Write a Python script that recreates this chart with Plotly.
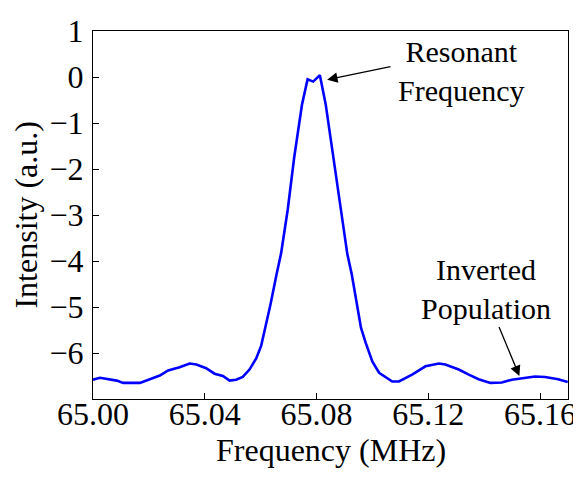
import plotly.graph_objects as go

freq_mhz = [65.0000, 65.0025, 65.0085, 65.0108, 65.0168, 65.0192, 65.0239, 65.0269,
            65.0310, 65.0346, 65.0370, 65.0405, 65.0435, 65.0465, 65.0489, 65.0512,
            65.0536, 65.0560, 65.0584, 65.0602, 65.0617, 65.0635, 65.0657, 65.0673,
            65.0697, 65.0720, 65.0748, 65.0768, 65.0788, 65.0812, 65.0833, 65.0859,
            65.0887, 65.0910, 65.0926, 65.0945, 65.0959, 65.0976, 65.1000, 65.1024,
            65.1071, 65.1095, 65.1142, 65.1190, 65.1238, 65.1261, 65.1309, 65.1345,
            65.1380, 65.1422, 65.1463, 65.1499, 65.1535, 65.1582, 65.1618, 65.1665,
            65.1699]
intensity = [-6.58, -6.54, -6.60, -6.65, -6.65, -6.60, -6.49, -6.38,
             -6.31, -6.23, -6.25, -6.33, -6.45, -6.50, -6.60, -6.58,
             -6.52, -6.36, -6.12, -5.84, -5.45, -4.95, -4.29, -3.84,
             -2.88, -1.75, -0.60, -0.05, -0.10, 0.04, -0.60, -1.70,
             -2.88, -3.84, -4.29, -5.00, -5.45, -5.78, -6.19, -6.43,
             -6.62, -6.62, -6.47, -6.29, -6.23, -6.25, -6.36, -6.47,
             -6.57, -6.65, -6.64, -6.58, -6.55, -6.51, -6.52, -6.57,
             -6.63]

x_ticks = [65.00, 65.04, 65.08, 65.12, 65.16]
x_tick_labels = ["65.00", "65.04", "65.08", "65.12", "65.16"]
y_ticks = [1, 0, -1, -2, -3, -4, -5, -6]

FONT = "Liberation Serif"

fig = go.Figure()
fig.add_trace(go.Scatter(x=freq_mhz, y=intensity, mode="lines",
                         line=dict(color="#0000ff", width=2.6), showlegend=False))

axis_common = dict(showline=True, linecolor="black", linewidth=1.3, mirror=True,
                   ticks="inside", ticklen=6, tickwidth=1.2, tickcolor="black",
                   showgrid=False, zeroline=False, ticklabeloverflow="allow",
                   tickfont=dict(family=FONT, size=32, color="black"))

fig.update_xaxes(range=[65.0, 65.17], tickvals=x_ticks, ticktext=x_tick_labels,
                 ticklabelstandoff=-14, **axis_common)
fig.update_yaxes(range=[-7, 1], tickvals=y_ticks, ticklabelstandoff=2, **axis_common)

title_font = dict(family=FONT, size=32, color="black")
fig.add_annotation(text="Frequency (MHz)", xref="paper", yref="paper", x=0.5, y=-0.138,
                   xanchor="center", yanchor="middle", showarrow=False, font=title_font)
fig.add_annotation(text="Intensity (a.u.)", xref="paper", yref="paper", x=-0.142, y=0.5,
                   xanchor="center", yanchor="middle", textangle=-90, showarrow=False,
                   font=title_font)

ann_font = dict(family=FONT, size=30, color="black")
fig.add_annotation(x=65.1320, y=0.12, xref="x", yref="y", text="Resonant<br>Frequency",
                   showarrow=False, font=ann_font, align="center")
fig.add_annotation(x=65.0838, y=-0.06, xref="x", yref="y", ax=65.107, ay=0.23,
                   axref="x", ayref="y", text="", showarrow=True, arrowhead=2,
                   arrowsize=1.6, arrowwidth=1.3, arrowcolor="black")
fig.add_annotation(x=65.1405, y=-4.6, xref="x", yref="y", text="Inverted<br>Population",
                   showarrow=False, font=ann_font, align="center")
fig.add_annotation(x=65.1526, y=-6.50, xref="x", yref="y", ax=65.1451, ay=-5.40,
                   axref="x", ayref="y", text="", showarrow=True, arrowhead=2,
                   arrowsize=1.6, arrowwidth=1.3, arrowcolor="black")

fig.update_layout(width=573, height=470, margin=dict(l=85, r=11, t=5, b=79),
                  plot_bgcolor="white", paper_bgcolor="white",
                  font=dict(family=FONT, color="black"))

fig.write_html("out.html")
